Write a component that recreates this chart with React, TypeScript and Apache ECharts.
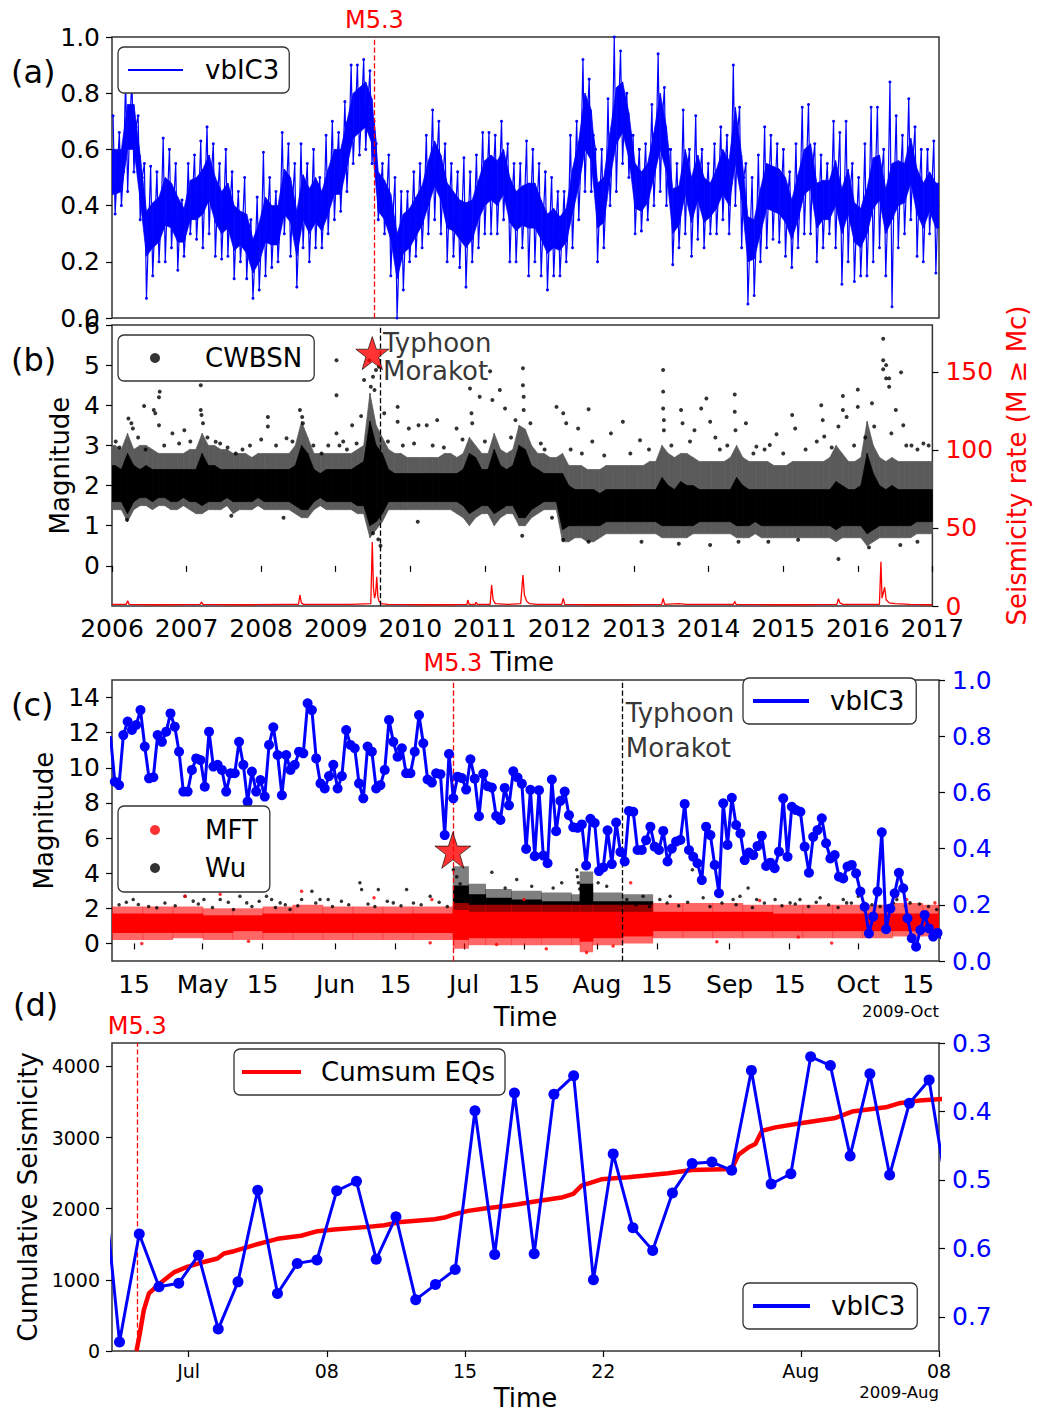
import React, { useEffect, useRef } from 'react';
import * as echarts from 'echarts';

const FONT = 'DejaVu Sans';
const BLUE = '#0000ff';
const RED = '#ff0000';

// ---------- event markers ----------
const M53_YEAR = 2009.49;
const TYPHOON_YEAR = 2009.6;
const M53_DAY = 178.4; // day of 2009, Jan 1 = 0
const TYPHOON_DAY = 217.95;
const M53_MAG = 5.3;

// ---------- panel (a): monthly vbIC3, 2006-01 .. 2016-12 ----------
// upper spike, lower spike and centre of each month
const aHi = [
  0.72, 0.66, 0.85, 0.85, 0.72, 0.55, 0.54, 0.52, 0.64, 0.6, 0.55, 0.42,
  0.55, 0.58, 0.63, 0.68, 0.62, 0.55, 0.6, 0.52, 0.45, 0.5, 0.35, 0.43,
  0.59, 0.5, 0.45, 0.66, 0.62, 0.55, 0.62, 0.55, 0.6, 0.5, 0.65, 0.7,
  0.66, 0.77, 0.9, 0.9, 0.92, 0.88, 0.62, 0.55, 0.58, 0.5, 0.45, 0.45,
  0.52, 0.55, 0.65, 0.74, 0.7, 0.62, 0.55, 0.52, 0.57, 0.52, 0.58, 0.66,
  0.66, 0.65, 0.7, 0.62, 0.55, 0.55, 0.63, 0.6, 0.55, 0.52, 0.5, 0.45,
  0.45, 0.65, 0.7, 0.92, 0.85, 0.6, 0.6, 0.78, 1.0, 0.95, 0.8, 0.65,
  0.6, 0.62, 0.76, 0.94, 0.82, 0.6, 0.55, 0.74, 0.6, 0.72, 0.6, 0.55,
  0.62, 0.68, 0.65, 0.9, 0.75, 0.55, 0.5, 0.58, 0.68, 0.65, 0.62, 0.6,
  0.52, 0.62, 0.75, 0.76, 0.62, 0.58, 0.55, 0.7, 0.66, 0.7, 0.55, 0.5,
  0.62, 0.75, 0.75, 0.6, 0.84, 0.72, 0.65, 0.78, 0.68, 0.6, 0.6, 0.63,
];
const aLo = [
  0.37, 0.4, 0.45, 0.52, 0.35, 0.07, 0.15, 0.2, 0.2, 0.25, 0.17, 0.22,
  0.3, 0.28, 0.25, 0.3, 0.22, 0.21, 0.22, 0.14, 0.2, 0.14, 0.07, 0.1,
  0.15, 0.18, 0.2, 0.3, 0.22, 0.11, 0.25, 0.2, 0.25, 0.25, 0.3, 0.35,
  0.38, 0.45, 0.55, 0.58, 0.6, 0.55, 0.35, 0.3, 0.15, 0.0, 0.1, 0.2,
  0.22, 0.25, 0.3, 0.35, 0.3, 0.2, 0.22, 0.18, 0.11, 0.2, 0.25, 0.3,
  0.3, 0.3, 0.35, 0.2, 0.2, 0.25, 0.15, 0.2, 0.15, 0.1, 0.15, 0.15,
  0.2, 0.25, 0.35, 0.45, 0.45, 0.2, 0.25, 0.4, 0.45, 0.55, 0.5, 0.3,
  0.31, 0.35, 0.4, 0.45, 0.4, 0.19, 0.25, 0.3, 0.22, 0.28, 0.25, 0.3,
  0.3, 0.35, 0.3, 0.4, 0.25, 0.05, 0.08, 0.2, 0.25, 0.28, 0.27, 0.22,
  0.18, 0.25, 0.3, 0.3, 0.2, 0.25, 0.3, 0.25, 0.12, 0.2, 0.13, 0.15,
  0.15, 0.2, 0.25, 0.15, 0.04, 0.25, 0.3, 0.35, 0.22, 0.2, 0.3, 0.16,
];
const aMid = [
  0.52, 0.52, 0.68, 0.68, 0.5, 0.3, 0.33, 0.35, 0.42, 0.4, 0.35, 0.33,
  0.42, 0.42, 0.45, 0.5, 0.42, 0.38, 0.4, 0.32, 0.32, 0.3, 0.22, 0.27,
  0.35, 0.33, 0.33, 0.45, 0.42, 0.3, 0.43, 0.38, 0.42, 0.38, 0.45, 0.52,
  0.52, 0.62, 0.72, 0.74, 0.76, 0.7, 0.45, 0.42, 0.36, 0.22, 0.3, 0.32,
  0.36, 0.4, 0.48, 0.55, 0.5, 0.4, 0.38, 0.35, 0.33, 0.35, 0.42, 0.48,
  0.5, 0.48, 0.52, 0.42, 0.38, 0.4, 0.4, 0.4, 0.35, 0.3, 0.32, 0.3,
  0.33, 0.45, 0.55, 0.7, 0.65, 0.4, 0.42, 0.58, 0.72, 0.75, 0.65, 0.47,
  0.45, 0.48, 0.58, 0.7, 0.6, 0.38, 0.4, 0.52, 0.42, 0.5, 0.42, 0.42,
  0.46, 0.52, 0.48, 0.65, 0.5, 0.28, 0.28, 0.38, 0.47, 0.46, 0.45, 0.42,
  0.35, 0.43, 0.52, 0.54, 0.4, 0.42, 0.42, 0.48, 0.38, 0.45, 0.34, 0.32,
  0.38, 0.48, 0.5, 0.38, 0.45, 0.48, 0.48, 0.56, 0.45, 0.4, 0.45, 0.4,
];
// dense body of each month (where the daily points pile up)
const aCoreHi = [
  0.6, 0.6, 0.76, 0.76, 0.58, 0.38, 0.41, 0.43, 0.5, 0.48, 0.43, 0.39,
  0.49, 0.5, 0.53, 0.58, 0.5, 0.45, 0.48, 0.4, 0.38, 0.37, 0.28, 0.34,
  0.43, 0.4, 0.4, 0.53, 0.5, 0.38, 0.51, 0.46, 0.5, 0.45, 0.53, 0.6,
  0.6, 0.7, 0.8, 0.82, 0.84, 0.78, 0.52, 0.49, 0.44, 0.3, 0.37, 0.39,
  0.43, 0.47, 0.56, 0.63, 0.58, 0.48, 0.45, 0.42, 0.41, 0.42, 0.49, 0.56,
  0.58, 0.56, 0.6, 0.5, 0.45, 0.47, 0.48, 0.48, 0.42, 0.37, 0.39, 0.36,
  0.39, 0.53, 0.63, 0.8, 0.74, 0.48, 0.5, 0.66, 0.82, 0.84, 0.73, 0.55,
  0.52, 0.55, 0.66, 0.8, 0.68, 0.46, 0.47, 0.6, 0.5, 0.58, 0.5, 0.48,
  0.53, 0.6, 0.56, 0.75, 0.58, 0.36, 0.35, 0.46, 0.55, 0.54, 0.53, 0.5,
  0.42, 0.51, 0.6, 0.62, 0.48, 0.49, 0.49, 0.56, 0.46, 0.53, 0.41, 0.39,
  0.46, 0.57, 0.58, 0.46, 0.55, 0.56, 0.55, 0.64, 0.53, 0.48, 0.52, 0.48,
];
const aCoreLo = [
  0.44, 0.45, 0.6, 0.6, 0.42, 0.22, 0.25, 0.27, 0.33, 0.32, 0.27, 0.27,
  0.35, 0.35, 0.37, 0.42, 0.34, 0.3, 0.32, 0.24, 0.26, 0.23, 0.16, 0.2,
  0.27, 0.26, 0.26, 0.37, 0.34, 0.22, 0.35, 0.3, 0.34, 0.31, 0.37, 0.44,
  0.44, 0.54, 0.64, 0.66, 0.68, 0.62, 0.38, 0.35, 0.28, 0.14, 0.23, 0.25,
  0.29, 0.33, 0.4, 0.47, 0.42, 0.32, 0.31, 0.28, 0.25, 0.28, 0.35, 0.4,
  0.42, 0.4, 0.44, 0.34, 0.31, 0.33, 0.32, 0.32, 0.28, 0.23, 0.25, 0.24,
  0.27, 0.37, 0.47, 0.6, 0.56, 0.32, 0.34, 0.5, 0.62, 0.66, 0.57, 0.39,
  0.38, 0.41, 0.5, 0.6, 0.52, 0.3, 0.33, 0.44, 0.34, 0.42, 0.34, 0.36,
  0.39, 0.44, 0.4, 0.55, 0.42, 0.2, 0.21, 0.3, 0.39, 0.38, 0.37, 0.34,
  0.28, 0.35, 0.44, 0.46, 0.32, 0.35, 0.35, 0.4, 0.3, 0.37, 0.27, 0.25,
  0.3, 0.39, 0.42, 0.3, 0.35, 0.4, 0.41, 0.48, 0.37, 0.32, 0.38, 0.32,
];

// ---------- panel (b): CWBSN magnitudes, monthly dense core and scattered fringe ----------
const bCoreLo = [
  1.6, 1.6, 1.3, 1.6, 1.7, 1.7, 1.6, 1.7, 1.7, 1.6, 1.6, 1.7,
  1.6, 1.6, 1.5, 1.6, 1.6, 1.6, 1.7, 1.6, 1.6, 1.6, 1.6, 1.7,
  1.6, 1.6, 1.6, 1.6, 1.6, 1.5, 1.4, 1.4, 1.6, 1.7, 1.6, 1.6,
  1.6, 1.6, 1.6, 1.5, 1.5, 1.0, 1.1, 1.3, 1.6, 1.6, 1.6, 1.6,
  1.6, 1.6, 1.6, 1.6, 1.6, 1.6, 1.6, 1.6, 1.5, 1.3, 1.4, 1.5,
  1.5, 1.3, 1.4, 1.5, 1.5, 1.2, 1.2, 1.4, 1.5, 1.6, 1.6, 1.6,
  0.9, 1.0, 1.0, 1.0, 1.0, 1.0, 1.0, 1.1, 1.1, 1.1, 1.1, 1.1,
  1.1, 1.1, 1.1, 1.1, 1.0, 1.0, 1.0, 1.0, 1.0, 1.0, 1.1, 1.1,
  1.1, 1.1, 1.1, 1.1, 1.0, 1.0, 1.0, 1.1, 1.0, 1.0, 1.0, 1.0,
  1.0, 1.0, 1.0, 1.0, 1.0, 1.0, 1.0, 1.0, 0.9, 1.0, 1.0, 1.0,
  1.0, 0.8, 0.9, 1.0, 1.0, 1.0, 1.0, 1.0, 1.0, 1.1, 1.1, 1.1,
];
const bCoreHi = [
  2.5, 2.4, 2.8, 2.5, 2.4, 2.5, 2.4, 2.4, 2.4, 2.4, 2.4, 2.4,
  2.4, 2.4, 2.8, 2.5, 2.5, 2.4, 2.4, 2.4, 2.4, 2.4, 2.4, 2.4,
  2.4, 2.4, 2.4, 2.4, 2.4, 2.5, 3.0, 2.8, 2.4, 2.3, 2.4, 2.4,
  2.4, 2.4, 2.4, 2.5, 2.6, 3.6, 3.0, 2.8, 2.4, 2.3, 2.3, 2.3,
  2.3, 2.3, 2.3, 2.3, 2.3, 2.3, 2.3, 2.3, 2.4, 2.8, 2.7, 2.4,
  2.4, 2.9, 2.5, 2.4, 2.5, 3.0, 2.9, 2.5, 2.4, 2.3, 2.3, 2.3,
  2.3, 2.0, 1.9, 1.9, 1.9, 1.9, 1.8, 1.9, 1.9, 1.9, 1.9, 1.9,
  1.9, 1.9, 1.9, 1.9, 2.2, 2.0, 1.9, 2.1, 2.0, 2.0, 1.9, 1.9,
  1.9, 1.9, 1.9, 1.9, 2.2, 2.0, 1.9, 1.9, 1.9, 1.9, 1.9, 1.9,
  1.9, 1.9, 1.9, 1.9, 1.9, 1.9, 1.9, 1.9, 2.1, 2.0, 1.9, 1.9,
  2.0, 2.8, 2.3, 2.0, 1.9, 2.0, 1.9, 1.9, 1.9, 1.9, 1.9, 1.9,
];
const bFrLo = [
  1.4, 1.4, 1.1, 1.4, 1.5, 1.5, 1.4, 1.5, 1.5, 1.4, 1.4, 1.5,
  1.4, 1.3, 1.3, 1.4, 1.4, 1.4, 1.5, 1.3, 1.4, 1.4, 1.4, 1.5,
  1.4, 1.4, 1.4, 1.4, 1.4, 1.3, 1.2, 1.2, 1.4, 1.5, 1.4, 1.4,
  1.4, 1.4, 1.4, 1.3, 1.3, 0.7, 0.9, 1.1, 1.4, 1.4, 1.4, 1.4,
  1.4, 1.4, 1.4, 1.4, 1.4, 1.4, 1.4, 1.3, 1.2, 1.0, 1.2, 1.3,
  1.3, 1.0, 1.2, 1.3, 1.3, 1.0, 1.0, 1.2, 1.3, 1.4, 1.4, 1.4,
  0.6, 0.6, 0.7, 0.7, 0.6, 0.6, 0.7, 0.8, 0.8, 0.8, 0.8, 0.8,
  0.8, 0.8, 0.8, 0.8, 0.7, 0.7, 0.7, 0.7, 0.7, 0.8, 0.8, 0.8,
  0.8, 0.8, 0.8, 0.8, 0.7, 0.7, 0.7, 0.8, 0.7, 0.7, 0.7, 0.7,
  0.7, 0.7, 0.7, 0.7, 0.7, 0.7, 0.7, 0.7, 0.6, 0.7, 0.7, 0.7,
  0.7, 0.5, 0.6, 0.7, 0.7, 0.7, 0.7, 0.7, 0.7, 0.8, 0.8, 0.8,
];
const bFrHi = [
  3.0, 2.9, 3.3, 2.9, 3.0, 3.0, 2.9, 2.8, 2.8, 2.8, 2.8, 2.8,
  2.9, 2.9, 3.3, 3.0, 3.0, 2.9, 2.9, 2.8, 2.8, 2.8, 2.7, 2.8,
  2.8, 2.8, 2.8, 2.8, 2.8, 3.0, 3.6, 3.2, 2.8, 2.8, 2.8, 2.8,
  2.8, 2.8, 2.8, 2.9, 3.0, 4.3, 3.5, 3.2, 2.9, 2.8, 2.8, 2.7,
  2.7, 2.7, 2.7, 2.7, 2.7, 2.8, 2.8, 2.7, 2.8, 3.2, 3.0, 2.8,
  2.8, 3.3, 2.9, 2.8, 2.9, 3.5, 3.4, 3.0, 2.8, 2.8, 2.7, 2.7,
  2.8, 2.5, 2.5, 2.5, 2.4, 2.4, 2.4, 2.5, 2.5, 2.5, 2.5, 2.5,
  2.5, 2.5, 2.6, 2.6, 3.0, 2.8, 2.7, 2.8, 2.8, 2.7, 2.6, 2.6,
  2.6, 2.6, 2.6, 2.7, 3.0, 2.7, 2.6, 2.6, 2.6, 2.6, 2.5, 2.5,
  2.5, 2.6, 2.6, 2.6, 2.6, 2.6, 2.6, 2.7, 3.0, 2.8, 2.6, 2.6,
  2.7, 3.6, 3.0, 2.7, 2.6, 2.7, 2.6, 2.6, 2.6, 2.6, 2.6, 2.6,
];
// isolated events [decimal year, magnitude]
const bOutliers = [
  [2006.22, 3.67], [2006.26, 3.55], [2006.28, 3.42], [2006.43, 3.98], [2006.56, 3.88], [2006.58, 3.8],
  [2006.63, 4.2], [2006.64, 4.34], [2006.63, 3.5], [2006.81, 3.3], [2006.97, 3.38], [2007.19, 4.5],
  [2007.19, 3.88], [2007.2, 3.76], [2007.22, 3.55], [2007.28, 3.2], [2007.39, 3.09], [2007.66, 2.8],
  [2008.09, 3.71], [2008.09, 3.47], [2008.34, 3.18], [2008.52, 3.88], [2008.55, 3.71], [2008.56, 3.55],
  [2008.81, 2.8], [2009.01, 5.12], [2009.01, 4.25], [2009.01, 3.3], [2009.1, 3.1], [2009.22, 3.5],
  [2009.34, 3.73], [2009.38, 4.63], [2009.45, 5.12], [2009.47, 4.46], [2009.5, 4.71], [2009.52, 4.38],
  [2009.54, 4.88], [2009.58, 4.96], [2009.65, 3.8], [2009.83, 3.96], [2009.83, 3.59], [2009.98, 3.42],
  [2010.11, 3.5], [2010.22, 3.5], [2010.36, 3.63], [2010.62, 3.42], [2010.8, 4.42], [2010.82, 3.8],
  [2010.83, 3.55], [2010.93, 4.21], [2011.07, 4.85], [2011.1, 4.13], [2011.2, 4.38], [2011.27, 3.92],
  [2011.41, 3.63], [2011.51, 4.92], [2011.51, 4.5], [2011.52, 4.21], [2011.52, 3.88], [2011.61, 3.55],
  [2011.75, 3.05], [2011.96, 3.96], [2012.05, 3.8], [2012.09, 3.55], [2012.25, 3.42], [2012.39, 3.9],
  [2012.44, 3.1], [2012.69, 3.3], [2012.85, 3.59], [2013.08, 3.13], [2013.39, 4.88], [2013.39, 4.34],
  [2013.39, 3.92], [2013.4, 3.63], [2013.4, 3.38], [2013.63, 3.88], [2013.65, 3.55], [2013.81, 3.38],
  [2013.9, 3.92], [2013.97, 4.17], [2014.02, 3.59], [2014.09, 3.2], [2014.35, 4.27], [2014.35, 3.84],
  [2014.36, 3.38], [2014.5, 3.55], [2014.64, 2.97], [2014.82, 3.01], [2014.91, 3.28], [2015.12, 3.76],
  [2015.16, 3.42], [2015.51, 4.0], [2015.53, 3.63], [2015.55, 3.22], [2015.74, 3.47], [2015.8, 4.23],
  [2015.8, 3.88], [2015.85, 3.71], [2016.0, 4.39], [2016.0, 3.96], [2016.19, 4.05], [2016.22, 3.47],
  [2016.34, 5.66], [2016.34, 5.12], [2016.34, 4.9], [2016.38, 5.0], [2016.38, 4.67], [2016.42, 4.67],
  [2016.42, 4.46], [2016.51, 3.88], [2016.58, 4.82], [2016.61, 3.5], [2016.72, 3.0], [2016.88, 3.05],
  [2015.74, 0.17], [2014.02, 0.52], [2014.4, 0.6], [2012.39, 0.6], [2012.05, 0.65], [2016.15, 0.46],
  [2016.57, 0.52], [2009.5, 0.81], [2009.57, 0.66], [2009.6, 0.5], [2011.5, 0.75],
  [2006.05, 3.1], [2006.1, 2.95], [2006.35, 3.2], [2006.45, 2.9], [2006.7, 3.0], [2006.9, 3.05],
  [2007.05, 3.1], [2007.45, 3.05], [2007.55, 2.95], [2007.75, 2.9], [2007.85, 3.0], [2008.0, 3.15],
  [2008.2, 3.0], [2008.42, 3.1], [2008.7, 3.0], [2008.9, 3.0], [2009.05, 3.0], [2009.15, 2.9],
  [2009.28, 3.05], [2009.7, 3.1], [2009.9, 3.0], [2010.05, 3.05], [2010.3, 3.0], [2010.45, 2.95],
  [2010.7, 3.15], [2011.0, 3.1], [2011.35, 3.2], [2011.8, 2.9], [2012.15, 2.9], [2012.3, 2.8],
  [2012.6, 2.75], [2012.95, 2.8], [2013.2, 2.9], [2013.5, 3.0], [2013.75, 3.1], [2014.15, 2.9],
  [2014.25, 3.0], [2014.6, 2.8], [2014.75, 2.9], [2015.0, 2.8], [2015.3, 2.9], [2015.45, 3.1],
  [2015.65, 2.95], [2015.95, 3.0], [2016.1, 3.2], [2016.45, 3.3], [2016.65, 3.0], [2016.8, 2.9],
  [2016.95, 3.0], [2006.2, 1.15], [2007.6, 1.25], [2008.3, 1.2], [2010.1, 1.1], [2011.9, 1.2],
  [2013.1, 0.6], [2013.6, 0.55], [2014.8, 0.6], [2015.2, 0.65], [2016.8, 0.6],
];
// seismicity rate (M >= Mc) [decimal year, rate]
const bRate = [
  [2006.0, 1], [2006.19, 1], [2006.21, 3.4], [2006.23, 1], [2006.6, 0.8], [2007.18, 1], [2007.2, 2.5],
  [2007.22, 1], [2007.8, 0.8], [2008.3, 1], [2008.5, 1], [2008.52, 7], [2008.54, 2], [2008.57, 1],
  [2009.2, 1], [2009.47, 1.5], [2009.49, 41], [2009.505, 12], [2009.52, 5], [2009.535, 8], [2009.55, 18.7],
  [2009.565, 6], [2009.58, 3], [2009.61, 1.5], [2009.7, 1], [2010.4, 0.8], [2010.76, 1], [2010.77, 3.8],
  [2010.79, 1], [2010.87, 1], [2010.88, 2.5], [2010.9, 1], [2011.07, 1], [2011.09, 13.4], [2011.11, 4],
  [2011.14, 1.5], [2011.3, 1], [2011.48, 1.5], [2011.51, 19.8], [2011.53, 7], [2011.56, 3], [2011.6, 1.5],
  [2011.7, 1], [2012.03, 1], [2012.05, 4.9], [2012.07, 1], [2012.6, 0.8], [2013.37, 1], [2013.39, 4.9],
  [2013.41, 1], [2013.6, 1.5], [2013.7, 1], [2014.33, 1], [2014.35, 2.8], [2014.37, 1], [2015.0, 0.8],
  [2015.72, 1], [2015.74, 4.7], [2015.76, 2], [2015.8, 1], [2016.29, 1], [2016.31, 28.3], [2016.325, 5],
  [2016.34, 8], [2016.36, 12], [2016.38, 4], [2016.42, 2], [2016.5, 1.5], [2016.7, 1], [2017.0, 0.8],
];

// ---------- panel (c): MFT / Wu catalogues in day-of-2009 bins ----------
const cBinEdges = [
  98.85, 106, 113, 120, 127, 134, 141, 148, 155, 162, 169, 178.4, 182, 186, 192, 199, 206, 208, 211,
  218, 225, 232, 239, 246, 253, 260, 267, 274, 281, 288, 291.85,
];
const mftCoreLo = [0.6, 0.6, 0.6, 0.6, 0.7, 0.6, 0.6, 0.6, 0.6, 0.6, 0.6, 0.2, 0.3, 0.3, 0.3, 0.3, 0.3, 0.1, 0.3, 0.4, 0.7, 0.7, 0.7, 0.7, 0.7, 0.7, 0.7, 0.7, 0.7, 0.7];
const mftCoreHi = [1.7, 1.7, 1.7, 1.6, 1.6, 1.7, 1.7, 1.7, 1.7, 1.7, 1.7, 1.9, 1.8, 1.8, 1.8, 1.8, 1.8, 1.8, 1.8, 1.8, 1.8, 1.8, 1.8, 1.8, 1.7, 1.7, 1.7, 1.7, 1.7, 1.7];
const mftFrLo = [0.2, 0.2, 0.3, 0.2, 0.2, 0.2, 0.2, 0.2, 0.2, 0.2, 0.2, -0.3, -0.1, -0.1, -0.1, -0.1, -0.1, -0.5, -0.1, 0.0, 0.3, 0.3, 0.3, 0.3, 0.3, 0.3, 0.3, 0.3, 0.4, 0.4];
const mftFrHi = [2.1, 2.1, 2.1, 2.0, 2.0, 2.1, 2.2, 2.1, 2.1, 2.1, 2.1, 2.3, 2.2, 2.2, 2.2, 2.2, 2.2, 2.2, 2.2, 2.2, 2.3, 2.3, 2.3, 2.2, 2.2, 2.2, 2.2, 2.2, 2.3, 2.2];
const wuCoreLo = [null, null, null, null, null, null, null, null, null, null, null, 1.0, 1.0, 1.0, 1.0, 1.0, 1.0, 0.4, 1.0, 1.0, null, null, null, null, null, null, null, null, null, null];
const wuCoreHi = [null, null, null, null, null, null, null, null, null, null, null, 3.3, 2.8, 2.6, 2.5, 2.4, 2.4, 3.4, 2.4, 2.4, null, null, null, null, null, null, null, null, null, null];
const wuFrLo = [null, null, null, null, null, null, null, null, null, null, null, 0.8, 0.8, 0.8, 0.8, 0.8, 0.8, 0.2, 0.8, 0.8, null, null, null, null, null, null, null, null, null, null];
const wuFrHi = [null, null, null, null, null, null, null, null, null, null, null, 4.4, 3.4, 3.1, 3.0, 2.9, 2.8, 4.1, 2.9, 2.8, null, null, null, null, null, null, null, null, null, null];
const wuOutliers = [
  [103.8, 2.5], [105.0, 2.22], [109.3, 2.03], [115.9, 2.69], [117.8, 2.41], [120.3, 2.5], [124.1, 2.5],
  [127.2, 1.93], [128.7, 2.69], [130.3, 2.31], [134.9, 2.69], [136.1, 2.5], [138.1, 2.31], [140.4, 1.93],
  [143.1, 2.5], [145.5, 2.97], [147.4, 2.5], [149.3, 2.5], [156.7, 3.45], [157.1, 3.07], [161.0, 3.07],
  [164.5, 2.31], [167.6, 3.07], [173.1, 2.69], [178.5, 4.2], [179.3, 3.8], [180.1, 3.4], [187.5, 4.05],
  [190.6, 3.16], [193.3, 3.64], [196.8, 3.26], [201.8, 3.16], [203.8, 3.45], [207.3, 4.2], [207.5, 3.8],
  [207.7, 3.45], [208.0, 3.1], [212.3, 3.45], [214.3, 3.26], [219.0, 2.5], [222.8, 2.69], [226.7, 2.5],
  [229.1, 2.69], [234.3, 4.2], [236.8, 2.6], [243.8, 2.5], [245.4, 2.69], [247.3, 3.16], [249.3, 2.5],
  [253.6, 2.5], [257.1, 2.31], [259.4, 2.5], [264.1, 2.6], [269.5, 2.5], [270.3, 2.31], [273.0, 2.69],
  [279.6, 2.12], [282.0, 2.5], [285.1, 2.31], [291.3, 1.93],
  [100.5, 2.2], [102.2, 2.35], [107.4, 2.1], [111.2, 2.3], [113.6, 2.15], [119.0, 2.25], [122.3, 2.05],
  [126.0, 2.35], [131.5, 2.1], [133.2, 2.4], [137.0, 2.05], [139.3, 2.2], [142.2, 2.15], [146.4, 2.3],
  [150.3, 2.1], [152.4, 2.4], [154.1, 2.2], [158.6, 2.25], [160.2, 2.1], [163.1, 2.4], [166.3, 2.15],
  [169.2, 2.3], [171.0, 2.2], [175.2, 2.35], [177.1, 2.1], [221.2, 2.2], [224.3, 2.1], [228.4, 2.3],
  [231.1, 2.15], [233.2, 2.35], [238.4, 2.1], [241.2, 2.3], [244.5, 2.2], [248.3, 2.05], [251.1, 2.3],
  [255.2, 2.15], [258.3, 2.25], [261.4, 2.1], [263.2, 2.35], [266.1, 2.2], [268.3, 2.05], [271.4, 2.3],
  [276.2, 2.2], [278.1, 2.1], [281.2, 2.3], [284.0, 2.15], [287.3, 2.25], [289.4, 2.1],
];
const mftOutliers = [
  [105.8, 0.0], [130.7, 0.13], [173.1, 0.04], [143.1, 2.97], [124.1, 2.8], [173.5, 2.5], [188.6, -0.06],
  [209.6, -0.52], [215.8, -0.15], [219.9, 3.45], [259.0, 0.37], [266.8, 0.02], [284.3, 2.5], [290.9, 2.31],
  [282.0, 2.69], [160.0, 2.6], [115.9, 2.69], [200.2, -0.3], [195.0, 2.5], [240.0, 0.1], [250.0, 2.45],
];

// daily vbIC3, first value at day 98.5 of 2009 (Apr 9, noon), one value per day
const vbStartDay = 98.5;
const vbDaily = [
  0.8,
  0.638, 0.626, 0.804, 0.852, 0.822, 0.84, 0.893, 0.763, 0.65, 0.654,
  0.804, 0.78, 0.816, 0.881, 0.834, 0.745, 0.603, 0.603, 0.68, 0.721,
  0.715, 0.62, 0.816, 0.692, 0.698, 0.68, 0.603, 0.668, 0.668, 0.78,
  0.698, 0.567, 0.674, 0.603, 0.644, 0.585, 0.769, 0.832, 0.733, 0.59,
  0.733, 0.68, 0.698, 0.745, 0.739, 0.917, 0.893, 0.721, 0.632, 0.614,
  0.658, 0.698, 0.614, 0.658, 0.822, 0.769, 0.757, 0.632, 0.579, 0.763,
  0.745, 0.614, 0.626, 0.68, 0.858, 0.78, 0.727, 0.757, 0.668, 0.668,
  0.745, 0.875, 0.775, 0.646, 0.635, 0.668, 0.665, 0.448, 0.737, 0.579,
  0.656, 0.651, 0.61, 0.718, 0.649, 0.515, 0.666, 0.622, 0.617, 0.516,
  0.502, 0.616, 0.554, 0.675, 0.653, 0.631, 0.399, 0.609, 0.373, 0.608,
  0.375, 0.348, 0.646, 0.462, 0.57, 0.603, 0.519, 0.476, 0.474, 0.486,
  0.34, 0.506, 0.491, 0.32, 0.333, 0.465, 0.345, 0.493, 0.388, 0.354,
  0.534,
  0.531, 0.395, 0.395, 0.43, 0.478, 0.407, 0.395, 0.463, 0.354, 0.4,
  0.425, 0.431, 0.559, 0.395, 0.371, 0.348, 0.288, 0.478, 0.448, 0.342,
  0.241, 0.561, 0.413, 0.581, 0.484, 0.454, 0.359, 0.386, 0.377, 0.409,
  0.446, 0.338, 0.35, 0.33, 0.389, 0.579, 0.371, 0.549, 0.537, 0.531,
  0.407, 0.314, 0.442, 0.466, 0.508, 0.419, 0.365, 0.377, 0.3, 0.294,
  0.336, 0.342, 0.312, 0.247, 0.193, 0.098, 0.158, 0.247, 0.458, 0.113,
  0.187, 0.241, 0.314, 0.259, 0.152, 0.081, 0.051, 0.11, 0.164, 0.116,
  0.087, 0.1, 0.08,
];

// ---------- panel (d): cumulative number of events after M5.3 ----------
const cumDay = [
  178.36, 178.53, 178.73, 178.99, 179.54, 180.25, 180.93, 181.61, 182.46, 182.79, 183.3, 184.32, 185.5,
  186.69, 187.53, 188.38, 190.08, 190.91, 191.76, 193.45, 193.96, 194.47, 195.15, 195.99, 196.84, 197.68,
  198.53, 199.88, 200.48, 200.9, 201.9, 203.26, 205.29, 206.48, 208.5, 208.85, 209.36, 209.7, 210.04,
  210.71, 212.07, 213.76, 214.6, 216.3, 216.97, 217.99, 219.17,
];
const cumVal = [
  0, 248, 575, 810, 950, 1105, 1183, 1240, 1301, 1371, 1403, 1488, 1577, 1620, 1685, 1708, 1745, 1769,
  1815, 1853, 1876, 1923, 1970, 2003, 2030, 2063, 2101, 2157, 2209, 2326, 2413, 2442, 2499, 2545, 2560,
  2761, 2864, 2910, 3097, 3144, 3206, 3277, 3366, 3426, 3482, 3520, 3544,
];

// ---------- tick labels ----------
const cTickDays = [104, 120, 134, 151, 165, 181, 195, 212, 226, 243, 257, 273, 287];
const cTickLabels = ['15', 'May', '15', 'Jun', '15', 'Jul', '15', 'Aug', '15', 'Sep', '15', 'Oct', '15'];
const dTickDays = [181, 188, 195, 202, 212, 219];
const dTickLabels = ['Jul', '08', '15', '22', 'Aug', '08'];

const STAR = 'path://M50,2 L61.8,36.2 L97.6,36.2 L68.6,57.4 L79.4,91.6 L50,70.4 L20.6,91.6 L31.4,57.4 L2.4,36.2 L38.2,36.2 Z';

function buildOption() {
  const aData: number[][] = [];
  aHi.forEach((h, i) => {
    aData.push([2006 + (i + 0.17) / 12, h]);
    aData.push([2006 + (i + 0.5) / 12, aLo[i]]);
    aData.push([2006 + (i + 0.83) / 12, aMid[i]]);
  });
  // month centres, padded to the axis ends
  const monthX = [2006, ...aHi.map((_, i) => 2006 + (i + 0.5) / 12), 2017];
  const pad = (arr: number[]) => [arr[0], ...arr, arr[arr.length - 1]];
  const binBands = (lo: any[], hi: any[]) =>
    lo.map((l, i) => (l == null ? null : [cBinEdges[i], cBinEdges[i + 1], l, hi[i]])).filter((d) => d != null);
  const vbData = vbDaily.map((v, i) => [vbStartDay + i, v]);
  const cumData = cumDay.map((d, i) => [d, cumVal[i]]);

  // smooth band between two monthly curves
  const ribbon = (name: string, xi: number, yi: number, lo: number[], hi: number[], fill: string, z = 2) => {
    const L = pad(lo);
    const H = pad(hi);
    const data: number[][] = [];
    for (let i = 0; i < monthX.length - 1; i++) data.push([monthX[i], monthX[i + 1], L[i], H[i], L[i + 1], H[i + 1]]);
    return {
      type: 'custom', name, xAxisIndex: xi, yAxisIndex: yi, data, clip: true, silent: true, z,
      dimensions: ['x0', 'x1', 'lo0', 'hi0', 'lo1', 'hi1'],
      encode: { x: [0, 1], y: [2, 3, 4, 5] },
      renderItem: (_p: any, api: any) => ({
        type: 'polygon',
        shape: {
          points: [
            api.coord([api.value(0), api.value(3)]),
            api.coord([api.value(1), api.value(5)]),
            api.coord([api.value(1), api.value(4)]),
            api.coord([api.value(0), api.value(2)]),
          ],
        },
        style: { fill, stroke: fill, lineWidth: 0.7 },
      }),
    };
  };

  const band = (name: string, xi: number, yi: number, data: any[], fill: string, z = 2) => ({
    type: 'custom', name, xAxisIndex: xi, yAxisIndex: yi, data, clip: true, silent: true, z,
    dimensions: ['x0', 'x1', 'lo', 'hi'],
    encode: { x: [0, 1], y: [2, 3] },
    renderItem: (_p: any, api: any) => {
      const a = api.coord([api.value(0), api.value(3)]);
      const b = api.coord([api.value(1), api.value(2)]);
      return {
        type: 'rect',
        shape: { x: a[0], y: a[1], width: b[0] - a[0] + 0.6, height: b[1] - a[1] },
        style: { fill },
      };
    },
  });

  const tick = (extra: any = {}) => ({ show: true, inside: false, length: 6, lineStyle: { color: '#000', width: 1.2 }, ...extra });
  const lbl = (extra: any = {}) => ({ fontSize: 25, fontFamily: FONT, color: '#000', ...extra });
  const nameStyle = { fontSize: 26, fontFamily: FONT, color: '#000' };
  const gridBase = { left: 112, width: 827, show: true, borderColor: '#333', borderWidth: 1.5, backgroundColor: 'transparent' };

  const vLine = (value: number, color: string, withLabel: boolean) => ({
    silent: true,
    symbol: 'none',
    animation: false,
    lineStyle: { color, type: 'dashed', width: 1.3 },
    label: withLabel
      ? { show: true, position: 'end', formatter: 'M5.3', color: RED, fontSize: 24, fontFamily: FONT, distance: 5 }
      : { show: false },
    emphasis: { disabled: true },
    data: [{ xAxis: value }],
  });

  const legendBase = {
    orient: 'horizontal',
    selectedMode: false,
    borderColor: '#333',
    borderWidth: 1.3,
    borderRadius: 6,
    backgroundColor: '#fff',
    itemStyle: { borderWidth: 0 },
    z: 20,
  };
  const legendText = (padLeft: number) => ({ fontSize: 26, fontFamily: FONT, color: '#000', lineHeight: 30, padding: [0, 0, 0, padLeft] });

  return {
    animation: false,
    textStyle: { fontFamily: FONT },
    grid: [
      { ...gridBase, top: 37, height: 281 },
      { ...gridBase, top: 325, height: 281 },
      { ...gridBase, top: 680, height: 281 },
      { ...gridBase, top: 1043, height: 308 },
    ],
    xAxis: [
      { type: 'value', gridIndex: 0, min: 2006, max: 2017, show: false },
      {
        type: 'value', gridIndex: 1, min: 2006, max: 2017, interval: 1,
        axisLine: { show: false }, splitLine: { show: false }, axisTick: tick(),
        axisLabel: lbl({ margin: 10, formatter: (v: number) => String(v) }),
        name: 'Time', nameLocation: 'middle', nameGap: 43, nameTextStyle: nameStyle,
      },
      {
        type: 'value', gridIndex: 2, min: 98.85, max: 291.85,
        axisLine: { show: false }, splitLine: { show: false }, axisTick: tick({ customValues: cTickDays }),
        axisLabel: lbl({ margin: 11, customValues: cTickDays, formatter: (v: number) => cTickLabels[cTickDays.indexOf(v)] ?? '' }),
        name: 'Time', nameLocation: 'middle', nameGap: 43, nameTextStyle: nameStyle,
      },
      {
        type: 'value', gridIndex: 3, min: 177.12, max: 219,
        axisLine: { show: false }, splitLine: { show: false }, axisTick: tick({ customValues: dTickDays }),
        axisLabel: lbl({ fontSize: 19, margin: 10, customValues: dTickDays, formatter: (v: number) => dTickLabels[dTickDays.indexOf(v)] ?? '' }),
        name: 'Time', nameLocation: 'middle', nameGap: 34, nameTextStyle: nameStyle,
      },
    ],
    yAxis: [
      {
        type: 'value', gridIndex: 0, min: 0, max: 1, interval: 0.2,
        axisLine: { show: false }, splitLine: { show: false }, axisTick: tick(),
        axisLabel: lbl({ margin: 12, formatter: (v: number) => v.toFixed(1) }),
      },
      {
        type: 'value', gridIndex: 1, min: -1, max: 6, interval: 1,
        axisLine: { show: false }, splitLine: { show: false },
        axisTick: tick({ customValues: [0, 1, 2, 3, 4, 5, 6] }),
        axisLabel: lbl({ margin: 12, customValues: [0, 1, 2, 3, 4, 5, 6], formatter: (v: number) => String(v) }),
        name: 'Magnitude', nameLocation: 'middle', nameGap: 33, nameRotate: 90, nameTextStyle: nameStyle,
      },
      {
        type: 'value', gridIndex: 1, position: 'right', min: 0, max: 180,
        axisLine: { show: false }, splitLine: { show: false },
        axisTick: tick({ customValues: [0, 50, 100, 150] }),
        axisLabel: lbl({ margin: 13, color: RED, customValues: [0, 50, 100, 150], formatter: (v: number) => String(v) }),
        name: 'Seismicity rate (M ≥ Mc)', nameLocation: 'middle', nameGap: 66, nameRotate: 90,
        nameTextStyle: { ...nameStyle, color: RED },
      },
      {
        type: 'value', gridIndex: 2, min: -1, max: 15,
        axisLine: { show: false }, splitLine: { show: false },
        axisTick: tick({ customValues: [0, 2, 4, 6, 8, 10, 12, 14] }),
        axisLabel: lbl({ margin: 12, customValues: [0, 2, 4, 6, 8, 10, 12, 14], formatter: (v: number) => String(v) }),
        name: 'Magnitude', nameLocation: 'middle', nameGap: 51, nameRotate: 90, nameTextStyle: nameStyle,
      },
      {
        type: 'value', gridIndex: 2, position: 'right', min: 0, max: 1, interval: 0.2,
        axisLine: { show: false }, splitLine: { show: false }, axisTick: tick(),
        axisLabel: lbl({ margin: 13, color: BLUE, formatter: (v: number) => v.toFixed(1) }),
      },
      {
        type: 'value', gridIndex: 3, min: 0, max: 4330,
        axisLine: { show: false }, splitLine: { show: false },
        axisTick: tick({ customValues: [0, 1000, 2000, 3000, 4000] }),
        axisLabel: lbl({ fontSize: 19, margin: 12, customValues: [0, 1000, 2000, 3000, 4000], formatter: (v: number) => String(v) }),
        name: 'Cumulative Seismicity', nameLocation: 'middle', nameGap: 70, nameRotate: 90, nameTextStyle: nameStyle,
      },
      {
        type: 'value', gridIndex: 3, position: 'right', inverse: true, min: 0.3, max: 0.75,
        axisLine: { show: false }, splitLine: { show: false },
        axisTick: tick({ customValues: [0.3, 0.4, 0.5, 0.6, 0.7] }),
        axisLabel: lbl({ margin: 13, color: BLUE, customValues: [0.3, 0.4, 0.5, 0.6, 0.7], formatter: (v: number) => v.toFixed(1) }),
      },
    ],
    legend: [
      {
        ...legendBase, left: 118, top: 47, padding: [8, 10, 8, 10], itemWidth: 55, itemHeight: 2,
        data: [{ name: 'vbIC3', icon: 'rect' }], textStyle: legendText(17),
      },
      {
        ...legendBase, left: 118, top: 335, padding: [8, 12, 8, 32], itemWidth: 10, itemHeight: 10,
        data: [{ name: 'CWBSN', icon: 'circle' }], textStyle: legendText(40),
      },
      {
        ...legendBase, orient: 'vertical', left: 118, top: 806, padding: [9, 12, 9, 32], itemGap: 8, itemWidth: 10, itemHeight: 10,
        data: [{ name: 'MFT', icon: 'circle' }, { name: 'Wu', icon: 'circle' }], textStyle: legendText(40),
      },
      {
        ...legendBase, left: 743, top: 678, padding: [8, 12, 8, 10], itemWidth: 56, itemHeight: 4,
        data: [{ name: 'vbIC3', icon: 'rect' }], textStyle: legendText(16),
      },
      {
        ...legendBase, left: 234, top: 1049, padding: [8, 10, 8, 8], itemWidth: 59, itemHeight: 4,
        data: [{ name: 'Cumsum EQs', icon: 'rect' }], textStyle: legendText(15),
      },
      {
        ...legendBase, left: 743, top: 1283, padding: [8, 12, 8, 10], itemWidth: 57, itemHeight: 4,
        data: [{ name: 'vbIC3', icon: 'rect' }], textStyle: legendText(16),
      },
    ],
    graphic: [
      { type: 'text', x: 11, y: 72, style: { text: '(a)', fontSize: 32, fontFamily: FONT, fill: '#000', verticalAlign: 'middle' } },
      { type: 'text', x: 11, y: 360, style: { text: '(b)', fontSize: 32, fontFamily: FONT, fill: '#000', verticalAlign: 'middle' } },
      { type: 'text', x: 11, y: 705, style: { text: '(c)', fontSize: 32, fontFamily: FONT, fill: '#000', verticalAlign: 'middle' } },
      { type: 'text', x: 13, y: 1005, style: { text: '(d)', fontSize: 32, fontFamily: FONT, fill: '#000', verticalAlign: 'middle' } },
      { type: 'text', x: 939, y: 1011, style: { text: '2009-Oct', fontSize: 16.5, fontFamily: FONT, fill: '#000', align: 'right', verticalAlign: 'middle' } },
      { type: 'text', x: 939, y: 1392, style: { text: '2009-Aug', fontSize: 16.5, fontFamily: FONT, fill: '#000', align: 'right', verticalAlign: 'middle' } },
    ],
    series: [
      // ----- (a)
      ribbon('vbIC3 body', 0, 0, aCoreLo, aCoreHi, BLUE, 2),
      {
        type: 'line', name: 'vbIC3', xAxisIndex: 0, yAxisIndex: 0, data: aData,
        color: BLUE, lineStyle: { width: 1.2, color: BLUE }, itemStyle: { color: BLUE },
        symbol: 'circle', symbolSize: 3, showAllSymbol: true, z: 3,
        markLine: vLine(M53_YEAR, RED, true),
      },
      // ----- (b)
      ribbon('CWBSN fringe', 1, 1, bFrLo, bFrHi, '#5a5a5a', 2),
      ribbon('CWBSN core', 1, 1, bCoreLo, bCoreHi, '#000', 2),
      {
        type: 'scatter', name: 'CWBSN', xAxisIndex: 1, yAxisIndex: 1, data: bOutliers,
        symbol: 'circle', symbolSize: 4, itemStyle: { color: '#000' }, z: 3,
      },
      {
        type: 'line', name: 'Seismicity rate', xAxisIndex: 1, yAxisIndex: 2, data: bRate,
        showSymbol: false, symbol: 'none', lineStyle: { color: RED, width: 1.3 }, itemStyle: { color: RED }, z: 4,
      },
      {
        type: 'scatter', name: 'Typhoon (b)', xAxisIndex: 1, yAxisIndex: 1, data: [[TYPHOON_YEAR, 6]],
        symbolSize: 1, itemStyle: { color: 'rgba(0,0,0,0)' }, z: 6,
        label: {
          show: true, formatter: 'Typhoon\nMorakot', position: [3, 4], align: 'left', verticalAlign: 'top',
          fontSize: 26, lineHeight: 28, fontFamily: FONT, color: '#000',
        },
        markLine: vLine(TYPHOON_YEAR, '#000', false),
      },
      {
        type: 'scatter', name: 'M5.3 (b)', xAxisIndex: 1, yAxisIndex: 1, data: [[M53_YEAR, M53_MAG]],
        symbol: STAR, symbolSize: 33, itemStyle: { color: RED, borderColor: '#000', borderWidth: 0.8 }, z: 10,
      },
      // ----- (c)
      band('Wu fringe', 2, 3, binBands(wuFrLo, wuFrHi), 'rgba(0,0,0,0.5)', 2),
      band('Wu core', 2, 3, binBands(wuCoreLo, wuCoreHi), '#000', 2),
      band('MFT fringe', 2, 3, binBands(mftFrLo, mftFrHi), 'rgba(255,0,0,0.6)', 2),
      band('MFT core', 2, 3, binBands(mftCoreLo, mftCoreHi), RED, 2),
      {
        type: 'scatter', name: 'Wu', xAxisIndex: 2, yAxisIndex: 3, data: wuOutliers,
        symbol: 'circle', symbolSize: 3.5, itemStyle: { color: '#000' }, z: 3,
      },
      {
        type: 'scatter', name: 'MFT', xAxisIndex: 2, yAxisIndex: 3, data: mftOutliers,
        symbol: 'circle', symbolSize: 3.5, itemStyle: { color: RED }, z: 3,
      },
      {
        type: 'line', name: 'vbIC3', xAxisIndex: 2, yAxisIndex: 4, data: vbData,
        color: BLUE, lineStyle: { width: 3, color: BLUE }, itemStyle: { color: BLUE },
        symbol: 'circle', symbolSize: 10, showAllSymbol: true, z: 5,
        markLine: vLine(M53_DAY, RED, true),
      },
      {
        type: 'scatter', name: 'Typhoon (c)', xAxisIndex: 2, yAxisIndex: 3, data: [[TYPHOON_DAY, 15]],
        symbolSize: 1, itemStyle: { color: 'rgba(0,0,0,0)' }, z: 6,
        label: {
          show: true, formatter: 'Typhoon\nMorakot', position: [4, 16], align: 'left', verticalAlign: 'top',
          fontSize: 26, lineHeight: 35, fontFamily: FONT, color: '#000',
        },
        markLine: vLine(TYPHOON_DAY, '#000', false),
      },
      {
        type: 'scatter', name: 'M5.3 (c)', xAxisIndex: 2, yAxisIndex: 3, data: [[M53_DAY, M53_MAG]],
        symbol: STAR, symbolSize: 36, itemStyle: { color: RED, borderColor: '#000', borderWidth: 0.8 }, z: 10,
      },
      // ----- (d)
      {
        type: 'line', name: 'Cumsum EQs', xAxisIndex: 3, yAxisIndex: 5, data: cumData,
        showSymbol: false, symbol: 'none', color: RED, lineStyle: { width: 4.5, color: RED }, itemStyle: { color: RED }, z: 3,
        markLine: vLine(M53_DAY, RED, true),
      },
      {
        type: 'line', name: 'vbIC3', xAxisIndex: 3, yAxisIndex: 6, data: vbData,
        color: BLUE, lineStyle: { width: 3, color: BLUE }, itemStyle: { color: BLUE },
        symbol: 'circle', symbolSize: 11, showAllSymbol: true, z: 5,
      },
    ],
  };
}

export default function App() {
  const ref = useRef<HTMLDivElement>(null);
  useEffect(() => {
    const chart = echarts.init(ref.current as HTMLDivElement, null, { renderer: 'svg' });
    chart.setOption(buildOption() as any);
    return () => chart.dispose();
  }, []);
  return <div ref={ref} style={{ position: 'absolute', left: 0, top: 0, width: 1038, height: 1413, background: '#fff' }} />;
}
